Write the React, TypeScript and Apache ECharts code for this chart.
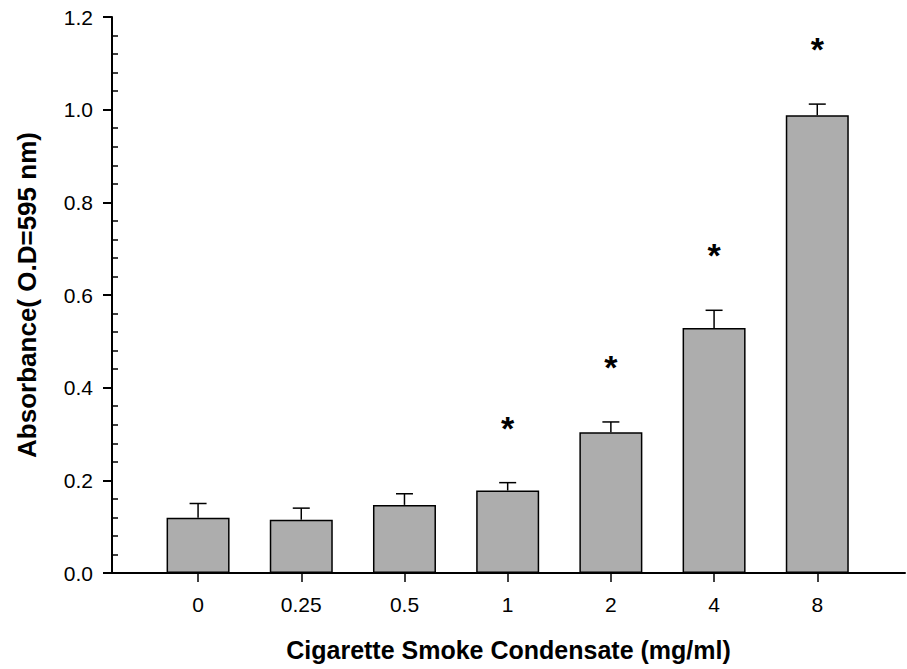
import React, { useEffect, useRef } from "react";
import * as echarts from "echarts";

const categories = ["0", "0.25", "0.5", "1", "2", "4", "8"];
const means = [0.119, 0.115, 0.147, 0.178, 0.304, 0.529, 0.988];
const errors = [0.031, 0.025, 0.024, 0.017, 0.022, 0.038, 0.024];
const significant = [0, 0, 0, 1, 1, 1, 1];
const yTicks = [0, 0.2, 0.4, 0.6, 0.8, 1.0, 1.2];

const FONT = "'Liberation Sans', Arial, sans-serif";

export default function App() {
  const ref = useRef<HTMLDivElement>(null);
  useEffect(() => {
    if (!ref.current) return;
    const chart = echarts.init(ref.current, null, { renderer: "svg" });
    const idx = categories.map((_, i) => i);
    chart.setOption({
      animation: false,
      backgroundColor: "#ffffff",
      grid: { left: 112, right: 2, top: 17, bottom: 96, containLabel: false },
      xAxis: {
        type: "value",
        min: -0.834,
        max: 6.85,
        splitLine: { show: false },
        name: "Cigarette Smoke Condensate (mg/ml)",
        nameLocation: "middle",
        nameGap: 64,
        nameTextStyle: { fontFamily: FONT, fontWeight: "bold", fontSize: 25, color: "#000" },
        axisLine: { show: true, onZero: false, lineStyle: { color: "#000", width: 2 } },
        axisTick: {
          show: true,
          customValues: idx,
          length: 9,
          lineStyle: { color: "#000", width: 1.5 },
        },
        axisLabel: {
          customValues: idx,
          margin: 21,
          fontFamily: FONT,
          fontSize: 21,
          color: "#000",
          formatter: (v: number) => categories[Math.round(v)] ?? "",
        },
      },
      yAxis: [
        {
          type: "value",
          min: yTicks[0],
          max: yTicks[yTicks.length - 1],
          interval: 0.2,
          position: "left",
          splitLine: { show: false },
          name: "Absorbance( O.D=595 nm)",
          nameLocation: "middle",
          nameGap: 72,
          nameTextStyle: { fontFamily: FONT, fontWeight: "bold", fontSize: 26, color: "#000" },
          axisLine: { show: true, onZero: false, lineStyle: { color: "#000", width: 2 } },
          axisTick: { show: true, length: 9, lineStyle: { color: "#000", width: 2 } },
          axisLabel: {
            margin: 19,
            fontFamily: FONT,
            fontSize: 21,
            color: "#000",
            formatter: (v: number) => v.toFixed(1),
          },
        },
        {
          type: "value",
          min: yTicks[0],
          max: yTicks[yTicks.length - 1],
          interval: 0.2,
          position: "left",
          offset: 0,
          splitLine: { show: false },
          axisLine: { show: false, onZero: false },
          axisLabel: { show: false },
          axisTick: { show: false, inside: true },
          minorTick: { show: true, splitNumber: 5, length: 6, lineStyle: { color: "#000", width: 1.5 } },
          minorSplitLine: { show: false },
        },
      ],
      series: [
        {
          type: "bar",
          yAxisIndex: 0,
          barWidth: 63,
          data: means.map((m, i) => [i, m]),
          itemStyle: { color: "#adadad", borderColor: "#000", borderWidth: 1.5 },
          silent: true,
        },
        {
          type: "custom",
          yAxisIndex: 0,
          silent: true,
          z: 3,
          data: means.map((m, i) => [i, m, errors[i], significant[i]]),
          renderItem: (params: any, api: any) => {
            const x = api.value(0);
            const m = api.value(1);
            const e = api.value(2);
            const s = api.value(3);
            const base = api.coord([x, m]);
            const top = api.coord([x, m + e]);
            const children: any[] = [
              {
                type: "line",
                shape: { x1: base[0], y1: base[1], x2: top[0], y2: top[1] },
                style: { stroke: "#000", lineWidth: 1.5 },
              },
              {
                type: "line",
                shape: { x1: top[0] - 8.5, y1: top[1], x2: top[0] + 8.5, y2: top[1] },
                style: { stroke: "#000", lineWidth: 1.5 },
              },
            ];
            if (s) {
              children.push({
                type: "text",
                x: top[0],
                y: top[1] - 55,
                style: {
                  text: "*",
                  fill: "#000",
                  font: "bold 34px " + FONT,
                  align: "center",
                  verticalAlign: "middle",
                },
              });
            }
            return { type: "group", children };
          },
        },
      ],
    });
    return () => chart.dispose();
  }, []);
  return (
    <div
      ref={ref}
      style={{ position: "absolute", left: 0, top: 0, width: 907, height: 669 }}
    />
  );
}
